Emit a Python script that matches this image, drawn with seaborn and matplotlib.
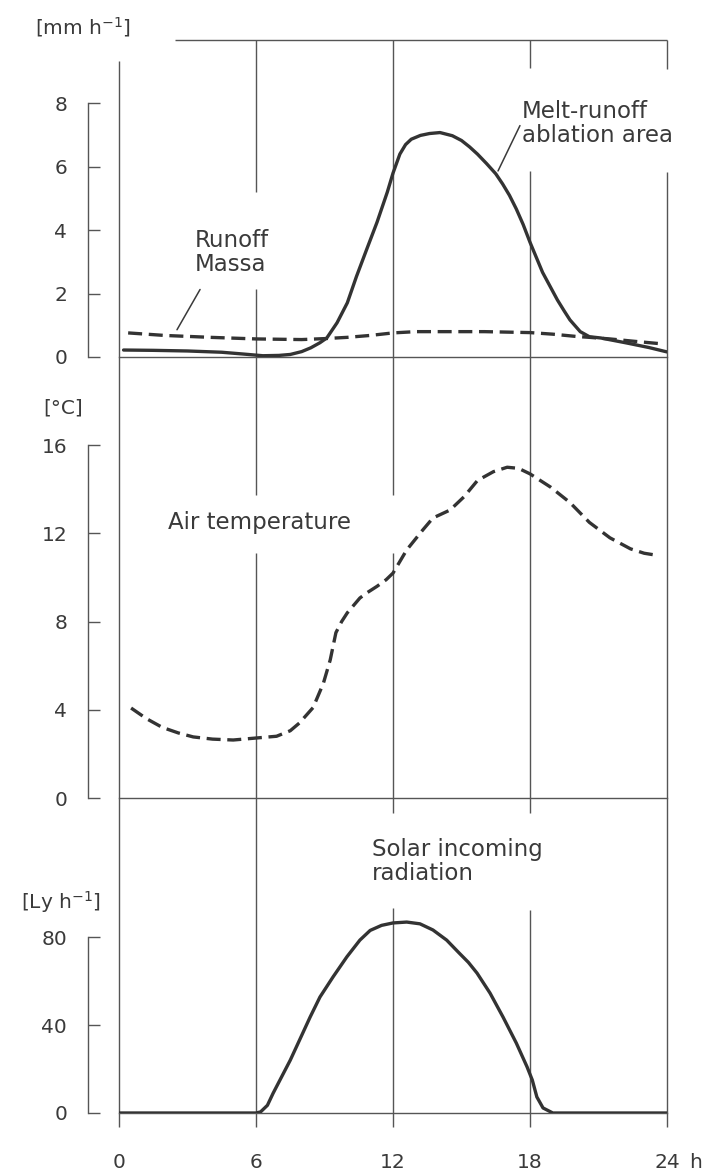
import matplotlib
matplotlib.use("Agg")
import matplotlib.pyplot as plt
import seaborn as sns

# ---- data: diurnal cycle (hours of day) ----
melt_hours = [0.2, 1.5, 3, 4.5, 5.5, 6.3, 7, 7.5, 8.0, 8.4, 8.8, 9.1, 9.55, 10.0, 10.4,
              10.85, 11.3, 11.75, 12.0, 12.3, 12.55, 12.8, 13.2, 13.6, 14.06, 14.6,
              15.0, 15.35, 15.7, 16.1, 16.5, 16.8, 17.1, 17.4, 17.7, 18.0, 18.55, 19.2,
              19.5, 19.75, 20.2, 20.6, 21.1, 22.25, 23.2, 24.0]
melt_runoff = [0.22, 0.21, 0.19, 0.15, 0.09, 0.04, 0.05, 0.08, 0.17, 0.29, 0.45, 0.6,
               1.08, 1.71, 2.54, 3.4, 4.25, 5.2, 5.8, 6.4, 6.7, 6.87, 6.99, 7.05, 7.08,
               6.98, 6.83, 6.63, 6.4, 6.1, 5.78, 5.46, 5.1, 4.67, 4.18, 3.62, 2.67,
               1.8, 1.45, 1.17, 0.8, 0.64, 0.6, 0.44, 0.3, 0.16]

massa_hours = [0.4, 2, 4, 6, 8, 9, 10, 11, 12, 13, 14, 16, 18, 19, 20, 20.6, 21.5,
               22.5, 23.7]
massa_runoff = [0.76, 0.68, 0.62, 0.57, 0.55, 0.58, 0.62, 0.68, 0.76, 0.8, 0.8, 0.8,
                0.77, 0.72, 0.65, 0.62, 0.57, 0.5, 0.42]

temp_hours = [0.53, 1.2, 1.9, 2.6, 3.25, 4.1, 5.0, 6.0, 6.9, 7.5, 7.9, 8.5, 8.95, 9.25,
              9.5, 9.75, 10.0, 10.55, 10.85, 11.3, 11.7, 12.0, 12.6, 13.3, 13.75, 14.5,
              15.1, 15.7, 16.4, 17.0, 17.5, 18.0, 18.9, 19.75, 20.6, 21.5, 22.4, 23.0,
              23.6]
air_temp = [4.08, 3.6, 3.2, 2.95, 2.77, 2.67, 2.63, 2.72, 2.8, 3.05, 3.4, 4.1, 5.2,
            6.26, 7.5, 8.0, 8.4, 9.07, 9.3, 9.6, 9.9, 10.2, 11.25, 12.15, 12.7, 13.06,
            13.65, 14.4, 14.8, 15.0, 14.95, 14.7, 14.1, 13.4, 12.5, 11.8, 11.3, 11.1,
            11.0]

solar_hours = [0, 3, 6.0, 6.2, 6.5, 6.75, 7.1, 7.5, 7.9, 8.37, 8.8, 9.37, 9.98, 10.55,
               11.0, 11.5, 12.0, 12.6, 13.18, 13.75, 14.35, 14.9, 15.3, 15.68, 16.25,
               16.82, 17.4, 17.87, 18.1, 18.3, 18.57, 19.0, 24]
solar_rad = [0, 0, 0, 0.5, 3.5, 9, 16, 24, 33, 43.6, 52.7, 61.8, 71, 78.6, 83, 85.3,
             86.4, 86.8, 86, 83.2, 78.6, 72.7, 68.5, 63.6, 54.5, 43.6, 31.8, 21, 15,
             7.3, 2.3, 0, 0]

hour_ticks = [0, 6, 12, 18, 24]
hour_labels = ["0", "6", "12", "18", "24"]
runoff_ticks = [0, 2, 4, 6, 8]
temp_ticks = [0, 4, 8, 12, 16]
rad_ticks = [0, 40, 80]

# ---- style ----
sns.set_theme(style="white")
plt.rcParams["font.family"] = ["DejaVu Sans"]
plt.rcParams["mathtext.default"] = "regular"
plt.rcParams["lines.solid_capstyle"] = "round"
plt.rcParams["lines.solid_joinstyle"] = "round"
plt.rcParams["lines.dash_joinstyle"] = "round"

INK = "#3a3a3a"
CURVE = "#333333"
FRAME = "#555555"
FS_TICK = 14.5
FS_NOTE = 16.5
LW_CURVE = 2.4
DASH = (0, (4.2, 2.0))

W, H = 708, 1176
fig = plt.figure(figsize=(W / 100, H / 100), dpi=100)
fig.patch.set_facecolor("white")


def axes_px(left, top, right, bottom):
    return fig.add_axes([left / W, 1 - bottom / H, (right - left) / W, (bottom - top) / H])


ax_top = axes_px(119, 40, 667, 357)
ax_mid = axes_px(119, 357, 667, 798)
ax_bot = axes_px(119, 798, 667, 1113)


def frame(ax, ymax, ticks, vsegments):
    ax.set_facecolor("none")
    ax.set_xlim(0, 24)
    ax.set_ylim(0, ymax)
    for side in ("top", "right"):
        ax.spines[side].set_visible(False)
    ax.spines["bottom"].set_color(FRAME)
    ax.spines["bottom"].set_linewidth(1.0)
    ax.spines["left"].set_position(("outward", 22.3))
    ax.spines["left"].set_bounds(ticks[0], ticks[-1])
    ax.spines["left"].set_color(FRAME)
    ax.spines["left"].set_linewidth(1.0)
    ax.set_yticks(ticks)
    ax.set_yticklabels([str(t) for t in ticks])
    ax.tick_params(axis="y", direction="in", length=8.6, width=1.0, color=FRAME,
                   pad=15, labelsize=FS_TICK, labelcolor=INK, left=True)
    for xh, segs in vsegments.items():
        for y0, y1 in segs:
            ax.vlines(xh, y0, y1, color=FRAME, lw=1.0, zorder=1, clip_on=False)


# vertical hour lines, broken where the curve labels sit
frame(ax_top, 10, runoff_ticks,
      {0: [(0, 9.33)], 6: [(0, 2.13), (5.21, 10)], 12: [(0, 10)],
       18: [(0, 5.87), (9.11, 10)], 24: [(0, 5.84), (9.08, 10)]})
ax_top.hlines(10, 2.45, 24, color=FRAME, lw=1.0, clip_on=False)

frame(ax_mid, 20, temp_ticks,
      {0: [(0, 20)], 6: [(0, 11.09), (13.73, 20)], 12: [(0, 11.09), (13.73, 20)],
       18: [(0, 20)], 24: [(0, 20)]})

frame(ax_bot, 143.2, rad_ticks,
      {0: [(0, 143.2)], 6: [(0, 143.2)], 12: [(0, 93.2), (136.4, 143.2)],
       18: [(0, 92.3), (136.4, 143.2)], 24: [(0, 143.2)]})

for ax in (ax_top, ax_mid):
    ax.set_xticks([])
ax_bot.set_xticks(hour_ticks)
ax_bot.set_xticklabels(hour_labels)
ax_bot.tick_params(axis="x", direction="out", length=10, width=1.0, color=FRAME,
                   pad=19, labelsize=FS_TICK, labelcolor=INK, bottom=True)

# ---- curves ----
sns.lineplot(x=melt_hours, y=melt_runoff, ax=ax_top, color=CURVE, lw=LW_CURVE,
             estimator=None, errorbar=None, zorder=3)
sns.lineplot(x=massa_hours, y=massa_runoff, ax=ax_top, color=CURVE, lw=LW_CURVE,
             linestyle=DASH, estimator=None, errorbar=None, zorder=3)
sns.lineplot(x=temp_hours, y=air_temp, ax=ax_mid, color=CURVE, lw=LW_CURVE,
             linestyle=DASH, estimator=None, errorbar=None, zorder=3)
sns.lineplot(x=solar_hours, y=solar_rad, ax=ax_bot, color=CURVE, lw=LW_CURVE,
             estimator=None, errorbar=None, zorder=3)

for ax in (ax_top, ax_mid, ax_bot):
    ax.set_xlim(0, 24)
    ax.set_xlabel("")
    ax.set_ylabel("")
    leg = ax.get_legend()
    if leg:
        leg.remove()

# ---- curve labels and leader lines ----
ax_top.text(3.33, 3.30, "Runoff\nMassa", ha="left", va="center", fontsize=FS_NOTE,
            color=INK, linespacing=1.05)
ax_top.plot([3.55, 2.54], [2.13, 0.86], color=INK, lw=1.1)
ax_top.text(17.65, 7.37, "Melt-runoff\nablation area", ha="left", va="center",
            fontsize=FS_NOTE, color=INK, linespacing=1.05)
ax_top.plot([17.56, 16.6], [7.30, 5.87], color=INK, lw=1.1)

ax_mid.text(2.15, 12.5, "Air temperature", ha="left", va="center", fontsize=FS_NOTE,
            color=INK)

ax_bot.text(11.08, 114.5, "Solar incoming\nradiation", ha="left", va="center",
            fontsize=FS_NOTE, color=INK, linespacing=1.05)

# ---- unit labels ----
def fig_text(xp, yp, s, **kw):
    fig.text(xp / W, 1 - yp / H, s, color=INK, fontsize=FS_TICK, va="center", **kw)


fig_text(83, 27, r"[mm h$^{-1}$]", ha="center")
fig_text(63, 408, "[°C]", ha="center")
fig_text(61, 902, r"[Ly h$^{-1}$]", ha="center")
fig_text(689, 1163, "h", ha="left")

fig.savefig("out.png", dpi=100, facecolor="white")
